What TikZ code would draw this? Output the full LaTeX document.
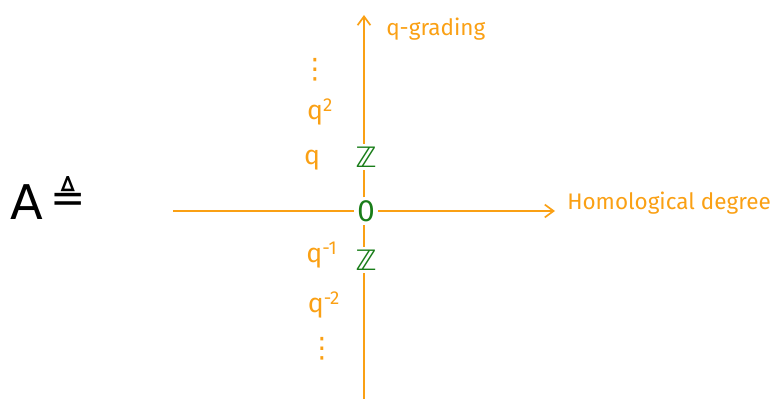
\documentclass[tikz,border=0pt]{standalone}
\usepackage{fontspec}
\setsansfont{Fira Sans}
\newfontfamily\dejavu{DejaVu Sans}
\usetikzlibrary{positioning,arrows.meta}
\definecolor{axisorange}{RGB}{250,160,20}
\definecolor{ringgreen}{RGB}{25,125,25}
\tikzset{
  axis/.style  ={draw=axisorange, line width=1.2pt},
  arr/.style   ={-{Straight Barb[length=2.2mm, width=3.2mm]}, axis},
  grd/.style   ={text=axisorange, font=\sffamily\fontsize{19}{19}\selectfont, inner sep=1pt},
  dts/.style   ={text=axisorange, font=\dejavu\fontsize{20}{20}\selectfont, inner sep=0pt},
  axlbl/.style ={text=axisorange, font=\sffamily\fontsize{16}{16}\selectfont, anchor=west, inner sep=0pt},
  ring/.style  ={text=ringgreen, font=\dejavu\fontsize{20}{20}\selectfont, inner sep=2pt},
}

\begin{document}
\begin{tikzpicture}[x=0.025cm, y=-0.025cm]
  \useasboundingbox (0,0) rectangle (778,399);

  % left hand side
  \node[font=\dejavu\fontsize{34}{34}\selectfont] (lhs) at (27,202) {A};
  \node[font=\dejavu\fontsize{30}{30}\selectfont] (def) at (68,194) {≜};

  % entries on the axes
  \node[ring] (zero) at (366,211) {0};
  \node[ring] (zup)  at (366,157) {ℤ};
  \node[ring] (zdn)  at (366,260) {ℤ};

  % q-degrees
  \node[dts] (dtop) at (315,70)  {⋮};
  \node[grd] (q2)   at (320,112) {q\textsuperscript{2}};
  \node[grd] (q1)   at (312,160) {q};
  \node[grd] (qm1)  at (322,255) {q\textsuperscript{-1}};
  \node[grd] (qm2)  at (324,305) {q\textsuperscript{-2}};
  \node[dts] (dbot) at (322,349) {⋮};

  % axes
  \coordinate (hl) at (173,211);
  \coordinate (hr) at (555,211);
  \coordinate (vb) at (364,399);
  \coordinate (vt) at (364,15);
  \draw[axis] (hl) -- (zero.west);
  \draw[arr]  (zero.east) -- (hr);
  \draw[axis] (vb) -- (zdn.south -| vb);
  \draw[axis] (zdn.north -| vb) -- (zero.south -| vb);
  \draw[axis] (zero.north -| vb) -- (zup.south -| vb);
  \draw[arr]  (zup.north -| vb) -- (vt);

  \node[axlbl] (qlbl) at (386,29)  {q-grading};
  \node[axlbl] (hlbl) at (567,203) {Homological degree};
\end{tikzpicture}
\end{document}
